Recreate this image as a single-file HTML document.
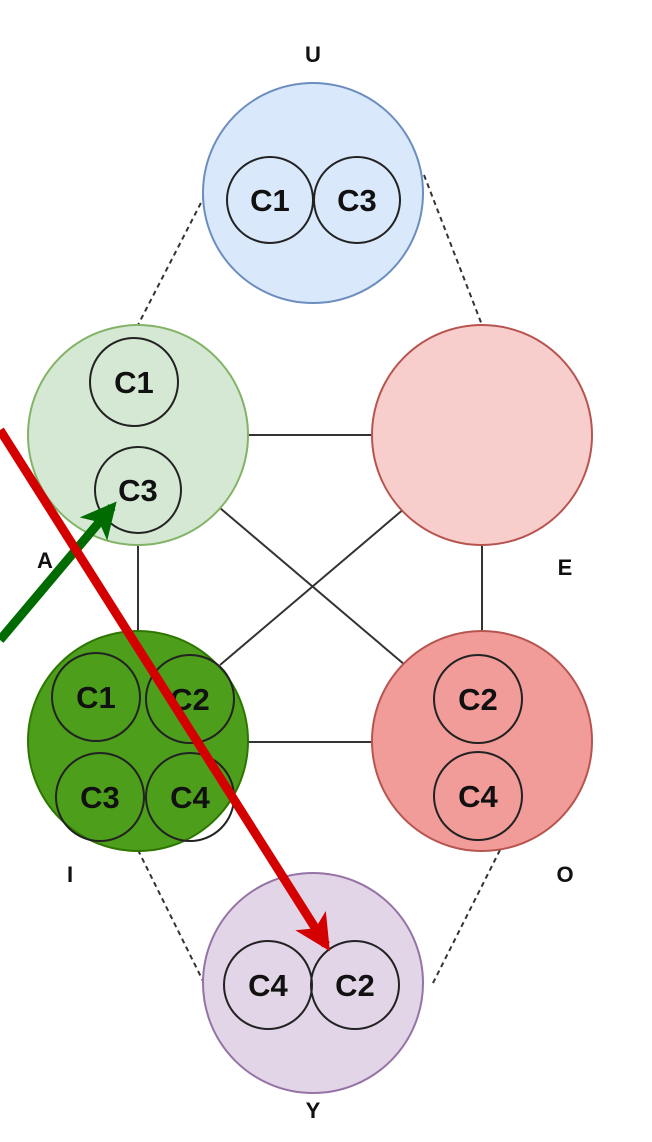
<!DOCTYPE html>
<html><head><style>
html,body{margin:0;padding:0;background:#fff;width:652px;height:1142px;overflow:hidden}
text{font-family:"Liberation Sans",sans-serif;font-weight:bold;fill:#111}
</style></head><body>
<svg width="652" height="1142" viewBox="0 0 652 1142" xmlns="http://www.w3.org/2000/svg">
<defs>
<marker id="rh" markerWidth="4" markerHeight="4" refX="3.2" refY="2" orient="auto" markerUnits="strokeWidth"><path d="M0,0 L4,2 L0,4 L1,2 z" fill="#d40000"/></marker>
<marker id="gh" markerWidth="4" markerHeight="4" refX="3.2" refY="2" orient="auto" markerUnits="strokeWidth"><path d="M0,0 L4,2 L0,4 L1,2 z" fill="#006b00"/></marker>
</defs>
<g stroke="#333" stroke-width="2" fill="none">
<line x1="248" y1="435" x2="372" y2="435"/>
<line x1="138" y1="545" x2="138" y2="632"/>
<line x1="482" y1="545" x2="482" y2="632"/>
<line x1="248" y1="742" x2="372" y2="742"/>
<line x1="220" y1="508" x2="405" y2="665"/>
<line x1="405" y1="508" x2="220" y2="665"/>
</g>
<g stroke="#333" stroke-width="2" stroke-dasharray="5,4" fill="none">
<line x1="205" y1="195" x2="138" y2="325"/>
<line x1="424" y1="175" x2="482" y2="325"/>
<line x1="138" y1="850" x2="205" y2="985"/>
<line x1="500" y1="850" x2="432" y2="985"/>
</g>
<circle cx="313" cy="193" r="110" fill="#dae8fc" stroke="#6c8ebf" stroke-width="2"/>
<circle cx="138" cy="435" r="110" fill="#d5e8d4" stroke="#82b366" stroke-width="2"/>
<circle cx="482" cy="435" r="110" fill="#f8cecc" stroke="#b85450" stroke-width="2"/>
<circle cx="138" cy="741" r="110" fill="#4d9e1a" stroke="#2d7600" stroke-width="2"/>
<circle cx="482" cy="741" r="110" fill="#f19c99" stroke="#b85450" stroke-width="2"/>
<circle cx="313" cy="983" r="110" fill="#e1d5e7" stroke="#9673a6" stroke-width="2"/>
<g stroke="#222" stroke-width="2" fill="none">
<circle cx="270" cy="200" r="43"/><circle cx="357" cy="200" r="43"/>
<circle cx="134" cy="382" r="44"/><circle cx="138" cy="490" r="43"/>
<circle cx="96" cy="697" r="44"/><circle cx="190" cy="699" r="44"/>
<circle cx="100" cy="797" r="44"/><circle cx="190" cy="797" r="44"/>
<circle cx="478" cy="699" r="44"/><circle cx="478" cy="796" r="44"/>
<circle cx="268" cy="985" r="44"/><circle cx="355" cy="985" r="44"/>
</g>
<g font-size="31" text-anchor="middle">
<text x="270" y="211">C1</text><text x="357" y="211">C3</text>
<text x="134" y="393">C1</text><text x="138" y="501">C3</text>
<text x="96" y="708">C1</text><text x="190" y="710">C2</text>
<text x="100" y="808">C3</text><text x="190" y="808">C4</text>
<text x="478" y="710">C2</text><text x="478" y="807">C4</text>
<text x="268" y="996">C4</text><text x="355" y="996">C2</text>
</g>
<g font-size="22" text-anchor="middle">
<text x="313" y="62">U</text><text x="45" y="568">A</text><text x="565" y="575">E</text>
<text x="70" y="882">I</text><text x="565" y="882">O</text><text x="313" y="1118">Y</text>
</g>
<line x1="0" y1="640" x2="112" y2="507" stroke="#006b00" stroke-width="9" marker-end="url(#gh)"/>
<line x1="0" y1="430" x2="326" y2="945" stroke="#d40000" stroke-width="9" marker-end="url(#rh)"/>
</svg>
</body></html>
